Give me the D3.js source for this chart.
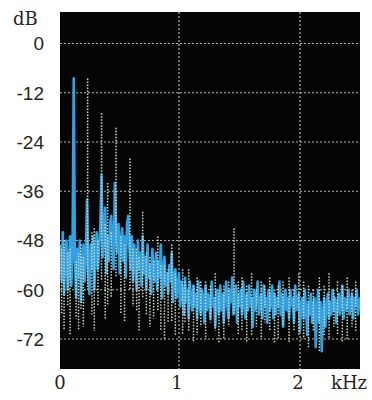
<!DOCTYPE html>
<html>
<head>
<meta charset="utf-8">
<script src="https://cdn.jsdelivr.net/npm/d3@7"></script>
<style>
  html, body { margin: 0; padding: 0; background: #ffffff; }
  svg { display: block; }
</style>
</head>
<body>
<svg id="chart" width="372" height="400"></svg>
<script>
// ---------------- data ----------------
const yTicks = [0, -12, -24, -36, -48, -60, -72];
const xTicks = [0, 1, 2];
const yUnit = "dB";
const xUnit = "kHz";

// blue trace: level (dB) at bins starting at 0.02 kHz, 0.01 kHz apart
const blueStart = 0.02;
const blueStep = 0.01;
const blueLevels = [
  -49,-58,-46,-61,-52,-48,-60,-54,-47,-59,
  -51,-8.5,-53,-62,-50,-57,-48,-63,-55,-49,
  -58,-52,-38,-56,-61,-49,-55,-47,-60,-52,
  -46,-55,-50,-44,-32,-52,-45,-40,-56,-47,
  -53,-44,-42,-49,-55,-34,-46,-51,-44,-56,
  -48,-45,-53,-47,-57,-44,-42,-50,-55,-47,
  -58,-49,-53,-60,-48,-55,-51,-59,-47,-56,
  -52,-60,-49,-57,-54,-61,-50,-56,-58,-51,
  -60,-53,-57,-49,-62,-55,-52,-59,-56,-61,
  -54,-58,-51,-63,-57,-55,-62,-59,-56,-64,
  -58,-61,-66,-57,-63,-60,-67,-58,-62,-65,
  -59,-64,-61,-67,-58,-63,-66,-60,-62,-68,
  -59,-65,-61,-63,-67,-58,-64,-62,-69,-60,
  -63,-66,-59,-65,-61,-68,-62,-58,-64,-67,
  -60,-63,-57,-66,-62,-59,-68,-61,-64,-60,
  -66,-58,-63,-67,-61,-65,-59,-64,-62,-69,
  -60,-65,-62,-58,-66,-63,-61,-67,-59,-64,
  -62,-68,-60,-65,-63,-59,-67,-61,-66,-62,
  -64,-58,-66,-61,-69,-63,-60,-65,-62,-67,
  -60,-64,-62,-68,-59,-65,-63,-61,-70,-64,
  -62,-67,-60,-65,-71,-63,-66,-61,-68,-64,
  -62,-74,-65,-60,-68,-63,-75,-66,-62,-69,
  -64,-61,-67,-63,-66,-60,-65,-62,-68,-64,
  -61,-66,-63,-59,-67,-62,-65,-64,-60,-66,
  -63,-61,-67,-62,-64,-60,-66,-63,-62,-65
];

// pale (dotted) spectral lines: frequency, top level, bottom level
const paleFreq = [0.03,0.05,0.08,0.10,0.15,0.17,0.19,0.21,0.245,0.28,0.30,0.33,0.36,0.39,0.41,0.44,0.48,0.52,0.55,
                  0.595,0.62,0.65,0.67,0.70,0.73,0.76,0.79,0.825,0.85,0.88,0.91,0.94,0.97,
                  1.03,1.05,1.08,1.12,1.15,1.18,1.22,1.26,1.30,1.33,1.37,1.41,1.455,1.49,1.52,1.56,1.60,1.64,1.68,
                  1.71,1.75,1.79,1.82,1.86,1.91,1.95,1.99,2.03,2.07,2.11,2.16,2.20,2.24,2.28,2.31,2.35,2.39,2.43,2.46];
const paleTop  = [-50,-48,-51,-50,-53,-51,-49,-52,-8.5,-46,-45,-48,-17,-44,-34,-46,-20.5,-47,-49,
                  -28,-50,-50,-52,-41,-51,-52,-53,-47,-54,-54,-55,-49,-56,
                  -55,-58,-55,-59,-57,-58,-58,-59,-56,-60,-59,-58,-45,-58,-57,-59,-56,-60,-58,
                  -59,-57,-60,-59,-58,-57,-60,-56,-58,-59,-60,-57,-59,-56,-60,-58,-59,-57,-60,-58];
const paleBot  = [-66,-70,-64,-71,-67,-70,-65,-69,-60,-66,-70,-64,-58,-67,-64,-62,-57,-66,-68,
                  -60,-64,-65,-70,-62,-66,-69,-67,-65,-70,-72,-68,-68,-71,
                  -71,-68,-70,-73,-71,-69,-72,-68,-70,-73,-72,-69,-66,-71,-70,-73,-71,-69,-72,
                  -68,-70,-73,-72,-69,-73,-70,-71,-72,-74,-70,-75,-71,-72,-69,-71,-73,-72,-69,-70];

// ---------------- layout ----------------
const svg = d3.select("#chart");
const plot = { left: 60, right: 360, top: 12, bottom: 369 };

const x = d3.scaleLinear().domain([0, 2.5]).range([58, 360.5]);
const y = d3.scaleLinear().domain([0, -72]).range([43.5, 339]);

svg.append("defs").append("clipPath").attr("id", "clip")
  .append("rect")
  .attr("x", plot.left).attr("y", plot.top)
  .attr("width", plot.right - plot.left).attr("height", plot.bottom - plot.top);

svg.append("rect")
  .attr("x", plot.left).attr("y", plot.top)
  .attr("width", plot.right - plot.left).attr("height", plot.bottom - plot.top)
  .attr("fill", "#050505");

const g = svg.append("g").attr("clip-path", "url(#clip)");

// grid lines
g.selectAll("line.hgrid").data(yTicks).join("line")
  .attr("class", "hgrid")
  .attr("x1", plot.left).attr("x2", plot.right)
  .attr("y1", d => y(d)).attr("y2", d => y(d))
  .attr("stroke", "#b9b6a8").attr("stroke-width", 1.2)
  .attr("stroke-dasharray", "2,2");

g.selectAll("line.vgrid").data(xTicks.filter(d => d > 0)).join("line")
  .attr("class", "vgrid")
  .attr("x1", d => x(d)).attr("x2", d => x(d))
  .attr("y1", plot.top).attr("y2", plot.bottom)
  .attr("stroke", "#b9b6a8").attr("stroke-width", 1.2)
  .attr("stroke-dasharray", "2,2");

// blue trace
const blueData = blueLevels.map((v, i) => ({ f: blueStart + i * blueStep, v }));
g.append("path")
  .datum(blueData)
  .attr("fill", "none")
  .attr("stroke", "#33a0e2")
  .attr("stroke-width", 2.6)
  .attr("stroke-linejoin", "round")
  .attr("d", d3.line().x(d => x(d.f)).y(d => y(d.v)));

// pale dotted lines
const paleData = paleFreq.map((f, i) => ({ f, top: paleTop[i], bot: paleBot[i] }));
g.selectAll("line.pale").data(paleData).join("line")
  .attr("class", "pale")
  .attr("x1", d => x(d.f)).attr("x2", d => x(d.f))
  .attr("y1", d => y(d.top)).attr("y2", d => y(d.bot))
  .attr("stroke", "#c9dcc6").attr("stroke-width", 1.5)
  .attr("stroke-dasharray", "1.5,1.5");

// ---------------- labels ----------------
const textColor = "#26261a";

svg.selectAll("text.ylab").data(yTicks).join("text")
  .attr("class", "ylab")
  .attr("x", 44).attr("y", d => y(d))
  .attr("dy", "0.36em")
  .attr("text-anchor", "end")
  .attr("font-family", "'Liberation Sans', Arial, sans-serif")
  .attr("font-size", 19)
  .attr("fill", textColor)
  .text(d => d);

svg.append("text")
  .attr("x", 13).attr("y", 25)
  .attr("font-family", "'DejaVu Serif', serif")
  .attr("font-size", 18)
  .attr("fill", textColor)
  .text(yUnit);

svg.selectAll("text.xlab").data(xTicks).join("text")
  .attr("class", "xlab")
  .attr("x", d => d === 0 ? x(d) + 2 : x(d) - 2)
  .attr("y", 389)
  .attr("text-anchor", "middle")
  .attr("font-family", "'DejaVu Serif', serif")
  .attr("font-size", 18)
  .attr("fill", textColor)
  .text(d => d);

svg.append("text")
  .attr("x", 331).attr("y", 389)
  .attr("font-family", "'DejaVu Serif', serif")
  .attr("font-size", 18)
  .attr("fill", textColor)
  .text(xUnit);
</script>
</body>
</html>
